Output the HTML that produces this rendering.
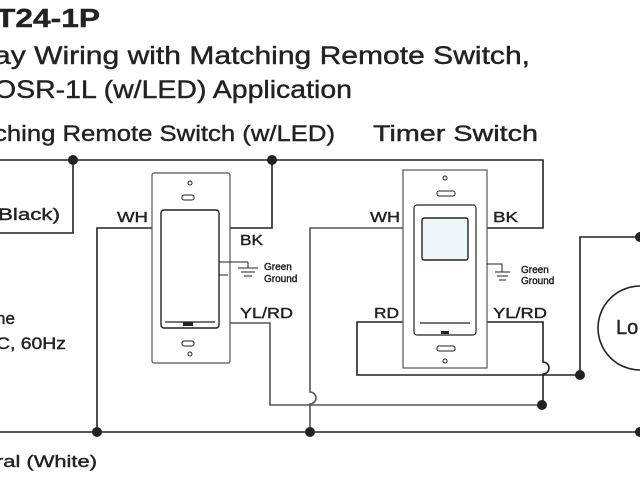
<!DOCTYPE html>
<html><head><style>
body{margin:0;background:#fff;width:640px;height:480px;overflow:hidden}
svg text{font-family:"Liberation Sans",sans-serif;fill:#222;stroke:#222;stroke-width:0.4}
</style></head><body>
<svg width="640" height="480" viewBox="0 0 640 480" xmlns="http://www.w3.org/2000/svg">
<g font-size="26" font-weight="bold"><text x="-4" y="27" textLength="104" lengthAdjust="spacingAndGlyphs">T24-1P</text></g>
<g font-size="25"><text x="-6" y="64" textLength="536" lengthAdjust="spacingAndGlyphs">ay Wiring with Matching Remote Switch,</text>
<text x="-6" y="98" textLength="358" lengthAdjust="spacingAndGlyphs">OSR-1L (w/LED) Application</text></g>
<g font-size="22"><text x="-6" y="141" textLength="341" lengthAdjust="spacingAndGlyphs">ching Remote Switch (w/LED)</text>
<text x="373" y="141" textLength="165" lengthAdjust="spacingAndGlyphs">Timer Switch</text></g>
<g font-size="17"><text x="-2" y="220" textLength="62" lengthAdjust="spacingAndGlyphs">Black)</text><text x="-4" y="324">ne</text><text x="-4" y="349" textLength="70" lengthAdjust="spacingAndGlyphs">C, 60Hz</text><text x="-4" y="467" textLength="101" lengthAdjust="spacingAndGlyphs">ral (White)</text>
<text x="616" y="334" font-size="20">Lo</text></g>
<g font-size="15"><text x="117" y="222" textLength="31" lengthAdjust="spacingAndGlyphs">WH</text><text x="240" y="245" textLength="23" lengthAdjust="spacingAndGlyphs">BK</text><text x="240" y="318" textLength="53" lengthAdjust="spacingAndGlyphs">YL/RD</text>
<text x="370" y="222" textLength="30" lengthAdjust="spacingAndGlyphs">WH</text><text x="493" y="222" textLength="25" lengthAdjust="spacingAndGlyphs">BK</text><text x="374" y="318" textLength="25" lengthAdjust="spacingAndGlyphs">RD</text><text x="493" y="318" textLength="54" lengthAdjust="spacingAndGlyphs">YL/RD</text></g>
<g font-size="10" style="stroke-width:0.2"><text x="264" y="270">Green</text><text x="264" y="282">Ground</text><text x="521" y="273">Green</text><text x="521" y="284">Ground</text></g>
<g fill="none" stroke="#222" stroke-width="1.6">
<path d="M0 160H543V228H487"/>
<path d="M73 160V233H0"/>
<path d="M152 228H97V432"/>
<path d="M0 432H640"/>
<path d="M230 228H272V160"/>
<path d="M230 323H270V405H542" stroke="#555"/>
<path d="M403 228H310V392a6 6 0 0 1 0 12V432" stroke="#555"/>
<path d="M403 322H357V375H580"/>
<path d="M487 322H543V362a6 6 0 0 1 0 12V405"/>
<path d="M580 375V237H640"/>
<path d="M640 286A42 42 0 0 0 640 370"/>
<rect x="152" y="173" width="78" height="190" rx="2" stroke="#555" stroke-width="1.2"/>
<rect x="161" y="210" width="58" height="118" rx="3" stroke-width="1.4"/>
<path d="M165 322H215" stroke-width="1.2"/>
<path d="M219 262H248M219 275H228M248 262V268M238 268H258M241 272H255M244 276H252" stroke-width="1"/>
<rect x="182" y="195" width="12" height="5" rx="2" stroke-width="1"/><rect x="182" y="341" width="12" height="5" rx="2" stroke-width="1"/>
<rect x="403" y="170" width="84" height="198" stroke="#555" stroke-width="1.2"/>
<rect x="414" y="205" width="62" height="130" rx="3" stroke-width="1.2"/>
<rect x="422" y="218" width="46" height="42" rx="2" stroke-width="1.4" fill="#eef6fa"/>
<path d="M420 323H470" stroke-width="1.2"/>
<path d="M487 264H502V272M495 272H510M497 276H508M499 280H506" stroke-width="1"/>
<rect x="437" y="191" width="18" height="5" rx="2" stroke-width="1"/><rect x="437" y="346" width="18" height="5" rx="2" stroke-width="1"/>
<circle cx="190" cy="183" r="2" stroke-width="1"/><circle cx="190" cy="354" r="2" stroke-width="1"/>
<circle cx="445" cy="178" r="2" stroke-width="1"/><circle cx="445" cy="361" r="2" stroke-width="1"/>
</g>
<rect x="183" y="322" width="10" height="4" fill="#222"/><rect x="441" y="331" width="8" height="3" fill="#222"/>
<g fill="#222"><circle cx="73" cy="160" r="5"/><circle cx="272" cy="160" r="5"/><circle cx="97" cy="432" r="5"/><circle cx="310" cy="432" r="5"/>
<circle cx="542" cy="405" r="5"/><circle cx="580" cy="375" r="5"/><circle cx="640" cy="237" r="5"/><circle cx="640" cy="432" r="5"/></g>
</svg>
</body></html>
